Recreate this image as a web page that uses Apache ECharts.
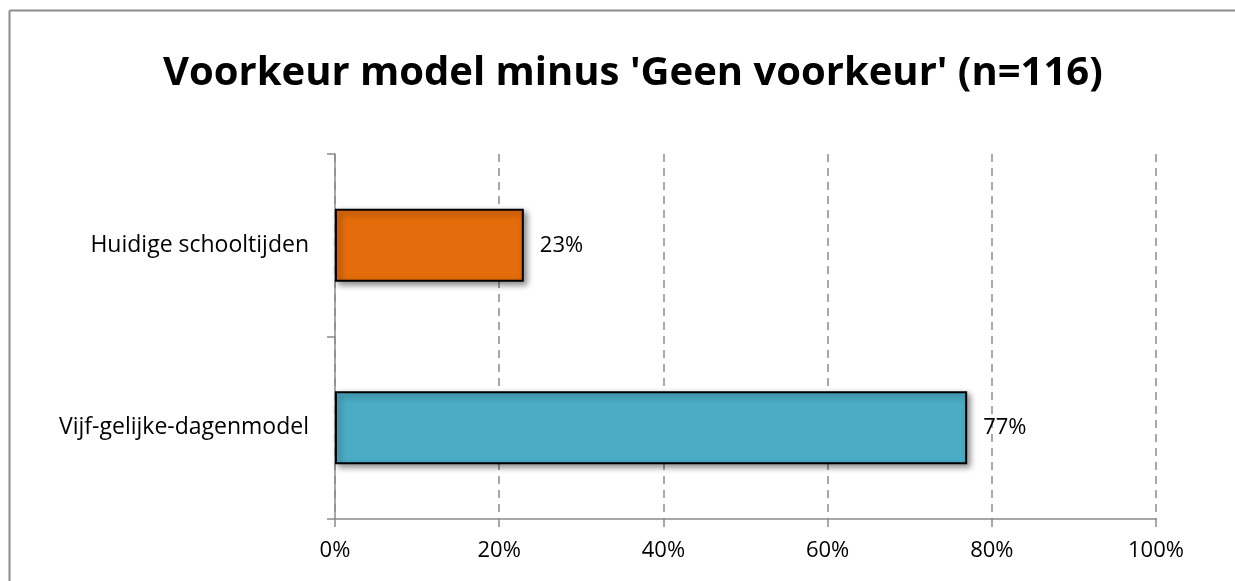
<!DOCTYPE html>
<html>
<head>
<meta charset="utf-8">
<script src="https://cdn.jsdelivr.net/npm/echarts@6/dist/echarts.min.js"></script>
<style>
  html, body { margin: 0; padding: 0; background: #fff; overflow: hidden; }
  #chart { width: 1235px; height: 581px; }
</style>
</head>
<body>
<div id="chart"></div>
<script>
// data
const categories = ['Huidige schooltijden', 'Vijf-gelijke-dagenmodel'];
const values = [23, 77];
const xTicks = [0, 20, 40, 60, 80, 100];

const barColors = ['#E46C0A', '#4BACC6'];
const fontFamily = '"Open Sans", "Noto Sans", sans-serif';

const myChart = echarts.init(document.getElementById('chart'), null, { renderer: 'canvas' });

const option = {
    backgroundColor: '#fff',
    animation: false,
    title: {
        text: "Voorkeur model minus 'Geen voorkeur' (n=116)",
        left: 163,
        top: 54,
        padding: 0,
        textStyle: {
            fontFamily: fontFamily,
            fontWeight: 'bold',
            fontSize: 40,
            color: '#000'
        }
    },
    graphic: [
        {
            type: 'line',
            shape: { x1: 9.5, y1: 10.5, x2: 1235, y2: 10.5 },
            style: { stroke: '#8c8c8c', lineWidth: 2 },
            silent: true
        },
        {
            type: 'line',
            shape: { x1: 9.5, y1: 10.5, x2: 9.5, y2: 581 },
            style: { stroke: '#8c8c8c', lineWidth: 2 },
            silent: true
        }
    ],
    grid: {
        left: 335,
        right: 79,
        top: 154,
        bottom: 62,
        containLabel: false
    },
    xAxis: {
        type: 'value',
        min: xTicks[0],
        max: xTicks[xTicks.length - 1],
        interval: xTicks[1] - xTicks[0],
        axisLine: { show: true, lineStyle: { color: '#8c8c8c', width: 1.5 } },
        axisTick: { show: true, length: 8, lineStyle: { color: '#8c8c8c', width: 1.5 } },
        axisLabel: {
            margin: 21,
            formatter: '{value}%',
            color: '#000',
            fontFamily: fontFamily,
            fontSize: 22
        },
        splitLine: {
            show: true,
            lineStyle: { color: '#8c8c8c', type: [8, 6], width: 1.5 }
        }
    },
    yAxis: {
        type: 'category',
        inverse: true,
        data: categories,
        axisLine: { show: true, lineStyle: { color: '#8c8c8c', width: 1.5 } },
        axisTick: { show: true, length: 8, lineStyle: { color: '#8c8c8c', width: 1.5 } },
        axisLabel: {
            margin: 26,
            color: '#000',
            fontFamily: fontFamily,
            fontSize: 23
        },
        splitLine: { show: false }
    },
    series: [
        {
            type: 'bar',
            data: values.map(function (v, i) {
                return { value: v, itemStyle: { color: barColors[i] } };
            }),
            barWidth: 73,
            itemStyle: {
                borderColor: '#000',
                borderWidth: 2,
                shadowColor: 'rgba(0,0,0,0.45)',
                shadowBlur: 6,
                shadowOffsetX: 3,
                shadowOffsetY: 3
            },
            label: {
                show: true,
                position: 'right',
                distance: 16,
                formatter: '{c}%',
                color: '#000',
                fontFamily: fontFamily,
                fontSize: 22
            }
        }
    ]
};

myChart.setOption(option);
</script>
</body>
</html>
